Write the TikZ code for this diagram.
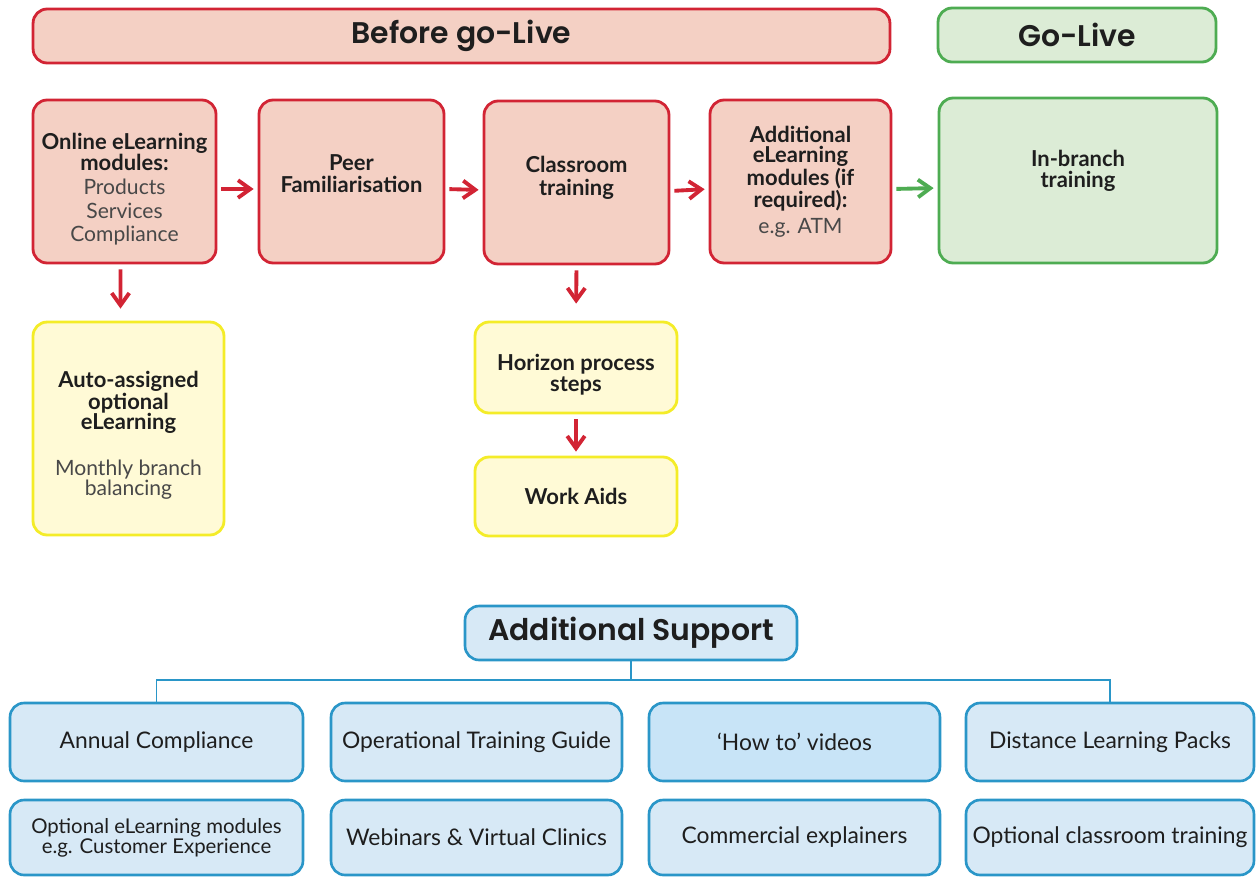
\documentclass[tikz,border=0pt]{standalone}
\usepackage{fontspec}
\setmainfont{Lato}
\newfontfamily\headfont{Poppins SemiBold}
\usetikzlibrary{arrows.meta}

\definecolor{boxred}{RGB}{210,36,52}
\definecolor{boxsalmon}{RGB}{244,208,196}
\definecolor{boxgreen}{RGB}{78,172,82}
\definecolor{boxmint}{RGB}{220,236,214}
\definecolor{boxyellow}{RGB}{244,236,40}
\definecolor{boxcream}{RGB}{255,250,214}
\definecolor{boxblue}{RGB}{42,150,200}
\definecolor{boxsky}{RGB}{215,233,246}
\definecolor{boxskydeep}{RGB}{200,228,247}
\definecolor{textdark}{RGB}{30,30,30}
\definecolor{textgray}{RGB}{72,72,72}

\newcommand\grayline[1]{{\mdseries\fontsize{12}{12}\selectfont\color{textgray}#1}}

\begin{document}
\begin{tikzpicture}[x=0.02cm,y=-0.02cm,
  box/.style={draw, rounded corners=8pt, line width=1.6pt, align=center,
    inner sep=2pt, text=textdark},
  redbox/.style={box, draw=boxred, fill=boxsalmon},
  greenbox/.style={box, draw=boxgreen, fill=boxmint},
  yellowbox/.style={box, draw=boxyellow, fill=boxcream},
  bluebox/.style={box, draw=boxblue, fill=boxsky, line width=1.5pt,
    minimum height=1.56cm, font={\fontsize{13}{13}\selectfont}},
  headbox/.style={minimum height=1.08cm, font={\headfont\fontsize{17}{19}\selectfont}},
  stepfont/.style={font={\bfseries\fontsize{12.5}{12}\selectfont}},
  tightfont/.style={font={\bfseries\fontsize{12.5}{11.4}\selectfont}},
  redarrow/.style={draw=boxred, line width=2.2pt,
    -{Straight Barb[length=7pt,width=10pt]}},
  greenarrow/.style={redarrow, draw=boxgreen},
  busline/.style={draw=boxblue, line width=1.1pt}]
\useasboundingbox (0,0) rectangle (1259,877);

% phase headers
\node[redbox, headbox, minimum width=17.14cm] (before) at (461.5,36) {Before go-Live};
\node[greenbox, headbox, minimum width=5.56cm] (golive) at (1077,35) {Go-Live};

% main steps
\node[redbox, stepfont, minimum width=3.66cm, minimum height=3.26cm] (online) at (124.5,181.5)
  {Online eLearning\\modules:\\[1.5pt]\grayline{Products}\\[1.5pt]\grayline{Services}\\[1.5pt]\grayline{Compliance}\\[-18.8pt]};
\node[redbox, stepfont, minimum width=3.70cm, minimum height=3.26cm] (peer) at (351.5,181.5)
  {Peer\\Familiarisation\\[-3pt]};
\node[redbox, stepfont, minimum width=3.70cm, minimum height=3.26cm] (class) at (576.5,182.5)
  {Classroom\\[1.5pt]training\\[-4.5pt]};
\node[redbox, tightfont, minimum width=3.62cm, minimum height=3.26cm] (addl) at (800.5,181.5)
  {Additional\\eLearning\\modules (if\\required):\\[3pt]\grayline{e.g. ATM}};
\node[greenbox, stepfont, minimum width=5.56cm, minimum height=3.30cm] (inbranch) at (1078,180.5)
  {In-branch\\training\\[1pt]};

% follow-on boxes
\node[yellowbox, tightfont, minimum width=3.82cm, minimum height=4.26cm] (auto) at (128.5,428.5)
  {Auto-assigned\\optional\\eLearning\\[15pt]\grayline{Monthly branch}\\\grayline{balancing}\\[-16.7pt]};
\node[yellowbox, stepfont, minimum width=4.04cm, minimum height=1.82cm] (horizon) at (576,367.5)
  {Horizon process\\steps\\[-17.7pt]};
\node[yellowbox, stepfont, minimum width=4.04cm, minimum height=1.58cm] (workaids) at (576,496.5)
  {Work Aids};

\draw[redarrow, shorten <=0.08cm, shorten >=0.08cm] ([yshift=-0.15cm]online.east) -- ([yshift=-0.15cm]peer.west);
\draw[redarrow, shorten <=0.08cm, shorten >=0.08cm] ([yshift=-0.15cm]peer.east) -- ([yshift=-0.15cm]class.west);
\draw[redarrow, shorten <=0.08cm, shorten >=0.08cm] ([yshift=-0.17cm]class.east) -- ([yshift=-0.15cm]addl.west);
\draw[greenarrow, shorten <=0.08cm, shorten >=0.08cm] ([yshift=-0.15cm]addl.east) -- ([yshift=-0.15cm]inbranch.west);
\draw[redarrow, shorten <=0.1cm, shorten >=0.24cm] ([xshift=-0.08cm]online.south) -- ([xshift=-0.16cm]auto.north);
\draw[redarrow, shorten <=0.1cm, shorten >=0.34cm] (class.south) -- (horizon.north);
\draw[redarrow, shorten <=0.1cm, shorten >=0.08cm] (horizon.south) -- (workaids.north);

% additional support
\node[bluebox, headbox, minimum width=6.64cm] (support) at (631,633) {Additional Support};
\node[bluebox, minimum width=5.86cm] (annual) at (156.5,742) {Annual Compliance};
\node[bluebox, minimum width=5.82cm] (guide) at (476.5,742) {Operational Training Guide};
\node[bluebox, fill=boxskydeep, minimum width=5.82cm] (videos) at (794.5,742) {‘How to’ videos};
\node[bluebox, minimum width=5.76cm] (packs) at (1110,742) {Distance Learning Packs};
\node[bluebox, minimum width=5.86cm, minimum height=1.50cm, font={\fontsize{11.6}{11.4}\selectfont}] (optmod) at (156.5,837.5)
  {Optional eLearning modules\\e.g. Customer Experience};
\node[bluebox, minimum width=5.82cm, minimum height=1.50cm] (webinars) at (476.5,837.5) {Webinars \& Virtual Clinics};
\node[bluebox, minimum width=5.82cm, minimum height=1.50cm] (explain) at (794.5,837.5) {Commercial explainers};
\node[bluebox, minimum width=5.76cm, minimum height=1.50cm] (optclass) at (1110,837.5) {Optional classroom training};

\coordinate (bus) at (631,680);
\draw[busline] (support.south) -- (bus);
\draw[busline] (annual.north) |- (bus) -| (packs.north);
\end{tikzpicture}
\end{document}
